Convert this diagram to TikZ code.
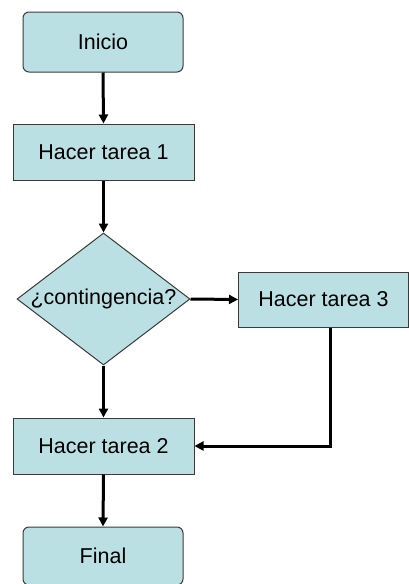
\documentclass[tikz,border=0pt]{standalone}
\usepackage{fontspec}
\setmainfont{Liberation Sans}
\usetikzlibrary{shapes.geometric,arrows.meta}
\definecolor{boxfill}{HTML}{BBE0E3}
\definecolor{boxline}{HTML}{3A3A3A}
\tikzset{
  base/.style={draw=boxline, line width=1pt, fill=boxfill, inner sep=0pt,
    font=\fontsize{21.5}{24}\selectfont},
  roundbox/.style={base, rectangle, rounded corners=6pt},
  taskbox/.style={base, rectangle},
  decbox/.style={base, diamond},
  flow/.style={line width=3pt, -{Triangle[width=9pt,length=9pt]}}
}
\begin{document}
\begin{tikzpicture}[x=1pt,y=-1pt]
\useasboundingbox (0,0) rectangle (409,584);
\node[roundbox, minimum width=160pt, minimum height=60pt] (inicio) at (103,42) {Inicio};
\node[taskbox, minimum width=181pt, minimum height=56pt] (t1) at (103.5,152) {Hacer tarea 1};
\node[decbox, minimum width=173pt, minimum height=132pt] (dec) at (103.5,299) {\makebox[0pt]{¿contingencia?}};
\node[taskbox, minimum width=170pt, minimum height=55pt] (t3) at (323.5,299.5) {Hacer tarea 3};
\node[taskbox, minimum width=181pt, minimum height=56pt] (t2) at (103.5,446) {Hacer tarea 2};
\node[roundbox, minimum width=160pt, minimum height=58pt] (final) at (103,556) {Final};
\draw[flow] (inicio.south) -- (t1.north);
\draw[flow] (t1.south) -- (dec.north);
\draw[flow] (dec.east) -- (t3.west);
\draw[flow] (dec.south) -- (t2.north);
\draw[flow] ([xshift=6.5pt]t3.south) |- (t2.east);
\draw[flow] (t2.south) -- (final.north);
\end{tikzpicture}
\end{document}
